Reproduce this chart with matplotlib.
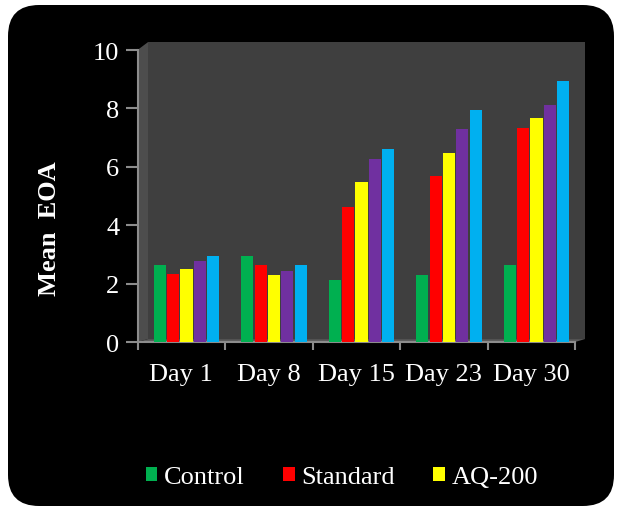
import matplotlib
matplotlib.use("Agg")
import matplotlib.pyplot as plt
import numpy as np
from matplotlib.patches import FancyBboxPatch, Polygon, Patch

categories = ["Day 1", "Day 8", "Day 15", "Day 23", "Day 30"]
series_names = ["Control", "Standard", "AQ-200", "Series 4", "Series 5"]
control = [2.62, 2.93, 2.11, 2.28, 2.62]
standard = [2.34, 2.65, 4.62, 5.70, 7.32]
aq200 = [2.49, 2.30, 5.47, 6.48, 7.66]
series4 = [2.76, 2.42, 6.27, 7.30, 8.12]
series5 = [2.93, 2.62, 6.61, 7.95, 8.95]
yticks = [0, 2, 4, 6, 8, 10]

colors = ["#00B050", "#FF0000", "#FFFF00", "#7030A0", "#00B0F0"]
all_series = [control, standard, aq200, series4, series5]

W, H = 623, 510
fig = plt.figure(figsize=(W / 100, H / 100), dpi=100)
fig.patch.set_facecolor("white")

# black rounded background
bg = FancyBboxPatch((8 / W, 3 / H), (W - 9) / W - 8 / W, (H - 6) / H - 3 / H,
                    boxstyle="round,pad=0,rounding_size=0.05",
                    transform=fig.transFigure, facecolor="black", edgecolor="none",
                    mutation_aspect=W / H, zorder=-10)
fig.patches.append(bg)

left, right = 137.5, 575
y0, y10 = 343, 51
ax = fig.add_axes([left / W, 1 - y0 / H, (right - left) / W, (y0 - y10) / H])
ax.set_facecolor("none")

# 3D-like walls
wall = Polygon([(0.024, 0.01), (1.023, 0.01), (1.023, 1.027), (0.024, 1.027)],
               closed=True, transform=ax.transAxes, facecolor="#3f3f3f",
               edgecolor="none", clip_on=False, zorder=0)
side = Polygon([(0, 0), (0.024, 0.01), (0.024, 1.027), (0, 1.0)],
               closed=True, transform=ax.transAxes, facecolor="#4d4d4d",
               edgecolor="none", clip_on=False, zorder=0)
floor = Polygon([(0, 0), (1.0, 0), (1.023, 0.01), (0.024, 0.01)],
                closed=True, transform=ax.transAxes, facecolor="#5a5a5a",
                edgecolor="none", clip_on=False, zorder=0)
for p in (wall, side, floor):
    ax.add_patch(p)

x = np.arange(len(categories))
step = 0.152
bw = 0.138
offset = 0.06
for i, (vals, c, name) in enumerate(zip(all_series, colors, series_names)):
    pos = x + offset + (i - 2) * step
    ax.bar(pos, vals, width=bw, color=c, label=name, zorder=3, linewidth=0)

ax.set_xlim(-0.5, len(categories) - 0.5)
ax.set_ylim(0, 10)
ax.set_yticks(yticks)
ax.set_yticklabels([str(v) for v in yticks])
ax.set_xticks(x)
ax.set_xticklabels(categories)
ax.set_xticks(np.arange(-0.5, len(categories), 1.0), minor=True)

for s in ("top", "right"):
    ax.spines[s].set_visible(False)
for s in ("left", "bottom"):
    ax.spines[s].set_color("#8c8c8c")
    ax.spines[s].set_linewidth(1.5)

font = "Liberation Serif"
ax.tick_params(axis="y", colors="#8c8c8c", length=9, width=1.5, labelcolor="white",
               labelsize=19, pad=4)
ax.tick_params(axis="x", which="major", length=0, labelcolor="white", labelsize=19, pad=15)
ax.tick_params(axis="x", which="minor", length=6, width=1.5, colors="#8c8c8c")
for lab in ax.get_xticklabels() + ax.get_yticklabels():
    lab.set_fontfamily(font)

fig.text(50 / W, 1 - 229 / H, "Mean  EOA", rotation=90, ha="center", va="center",
         color="white", fontsize=19, fontweight="bold", fontfamily=font)

handles = [Patch(facecolor=colors[i], edgecolor="none") for i in range(3)]
leg = fig.legend(handles, series_names[:3], loc="center", ncol=3,
                 bbox_to_anchor=(342 / W, 1 - 478 / H), frameon=False,
                 handlelength=0.45, handleheight=0.45, handletextpad=0.25,
                 columnspacing=1.45, prop={"family": font, "size": 19})
for t in leg.get_texts():
    t.set_color("white")

fig.savefig("out.png", dpi=100, facecolor=fig.get_facecolor())
